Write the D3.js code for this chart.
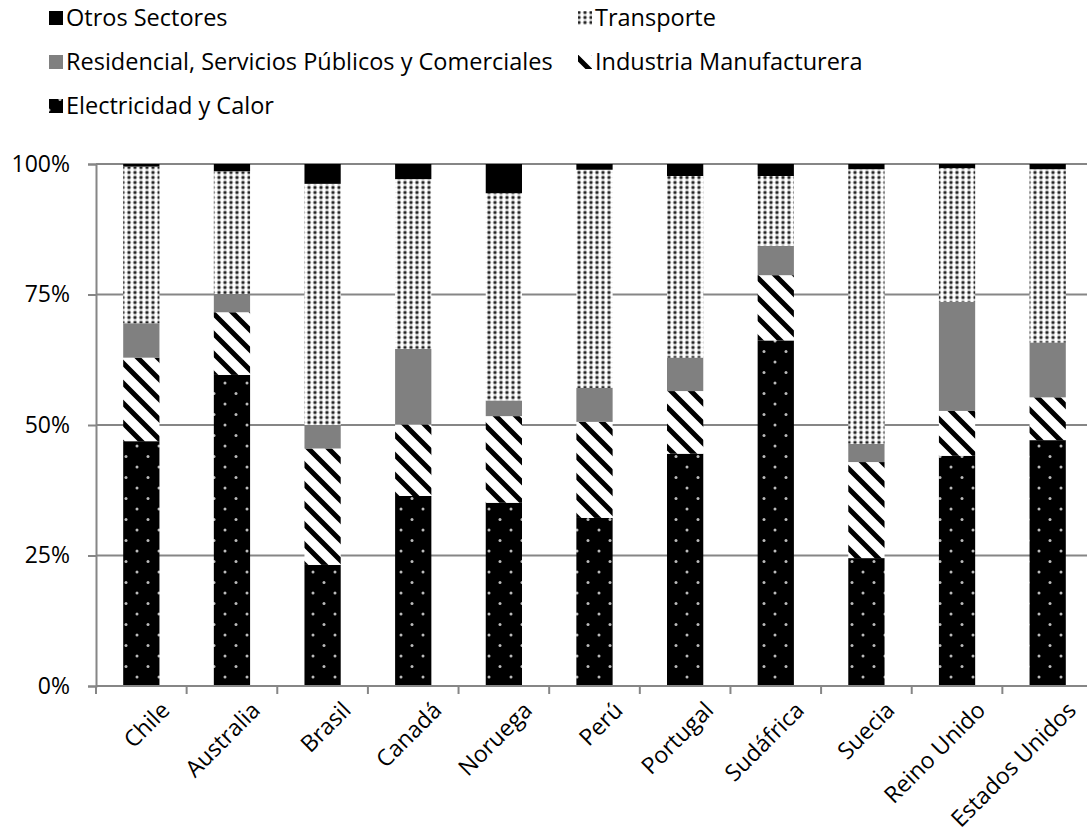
<!DOCTYPE html>
<html>
<head>
<meta charset="utf-8">
<script src="https://cdn.jsdelivr.net/npm/d3@7"></script>
<style>
body { margin: 0; background: #fff; }
text { font-family: "Open Sans", sans-serif; fill: #000; }
</style>
</head>
<body>
<div id="chart"></div>
<script>
var paises = ["Chile","Australia","Brasil","Canadá","Noruega","Perú","Portugal","Sudáfrica","Suecia","Reino Unido","Estados Unidos"]
var sectores = ["Electricidad y Calor","Industria Manufacturera","Residencial, Servicios Públicos y Comerciales","Transporte","Otros Sectores"]

// porcentajes
var electricidad = [46.9, 59.6, 23.2, 36.4, 35.1, 32.2, 44.5, 66.2, 24.5, 44.1, 47.1]
var industria    = [16.0, 12.0, 22.3, 13.7, 16.6, 18.4, 12.0, 12.5, 18.4, 8.6, 8.2]
var residencial  = [6.6, 3.5, 4.5, 14.5, 3.0, 6.5, 6.4, 5.6, 3.5, 20.9, 10.5]
var transporte   = [30.0, 23.5, 46.2, 32.5, 39.7, 41.8, 34.8, 13.4, 52.6, 25.6, 33.2]
var otros        = [0.5, 1.4, 3.8, 2.9, 5.6, 1.1, 2.3, 2.3, 1.0, 0.8, 1.0]
var yTicks = [0, 0.25, 0.5, 0.75, 1]

var series = [electricidad, industria, residencial, transporte, otros]
var fills = ["url(#pElec)","url(#pInd)","#808080","url(#pTrans)","#000"]

var width = 1087, height = 837
var svg = d3.select("#chart").append("svg")
    .attr("width", width)
    .attr("height", height)

var defs = svg.append("defs")

var pe = defs.append("pattern").attr("id","pElec")
    .attr("patternUnits","userSpaceOnUse").attr("width",22).attr("height",21)
pe.append("rect").attr("width",22).attr("height",21).attr("fill","#000")
pe.append("circle").attr("cx",5).attr("cy",5).attr("r",1.5).attr("fill","#bbb")
pe.append("circle").attr("cx",16).attr("cy",15.5).attr("r",1.5).attr("fill","#bbb")

var pi = defs.append("pattern").attr("id","pInd")
    .attr("patternUnits","userSpaceOnUse").attr("width",20).attr("height",20)
pi.append("rect").attr("width",20).attr("height",20).attr("fill","#fff")
pi.append("path").attr("d","M-10,-10L30,30M-10,10L10,30M10,-10L30,10")
    .attr("stroke","#000").attr("stroke-width",5)

var pt = defs.append("pattern").attr("id","pTrans")
    .attr("patternUnits","userSpaceOnUse").attr("width",6).attr("height",5)
pt.append("rect").attr("width",6).attr("height",5).attr("fill","#fff")
pt.append("circle").attr("cx",3).attr("cy",2.5).attr("r",2.2).attr("fill","#aaa")
pt.append("circle").attr("cx",3).attr("cy",2.5).attr("r",1.2).attr("fill","#222")

var x = d3.scaleBand().domain(paises).range([96, 1093])
var y = d3.scaleLinear().domain([0, 1]).range([686, 164])

var rows = paises.map(function(p, i){
    var r = {pais: p}
    sectores.forEach(function(s, k){ r[s] = series[k][i] })
    return r
})
var stacked = d3.stack().keys(sectores).offset(d3.stackOffsetExpand)(rows)

// lineas de cuadricula
svg.append("g").selectAll("line")
    .data(yTicks.slice(1))
    .enter().append("line")
    .attr("x1", 96).attr("x2", width)
    .attr("y1", function(d){ return y(d) }).attr("y2", function(d){ return y(d) })
    .attr("stroke","#868686").attr("stroke-width",2)

var barW = x.bandwidth() * 0.4
svg.append("g").selectAll("g")
    .data(stacked)
    .enter().append("g")
    .attr("fill", function(d, i){ return fills[i] })
    .selectAll("rect")
    .data(function(d){ return d })
    .enter().append("rect")
    .attr("x", function(d){ return x(d.data.pais) + (x.bandwidth() - barW) / 2 })
    .attr("y", function(d){ return y(d[1]) })
    .attr("width", barW)
    .attr("height", function(d){ return y(d[0]) - y(d[1]) })

// eje y
var yAxis = svg.append("g")
    .attr("transform","translate(96,0)")
    .call(d3.axisLeft(y).tickValues(yTicks).tickFormat(d3.format(".0%")).tickSize(8).tickPadding(18))
yAxis.select(".domain").attr("stroke","#868686").attr("stroke-width",2)
yAxis.selectAll(".tick line").attr("stroke","#868686").attr("stroke-width",2)
yAxis.selectAll("text").style("font-size","23px").attr("fill","#000")

// eje x
var xAxis = svg.append("g")
    .attr("transform","translate(0,686)")
xAxis.append("line").attr("x1",96).attr("x2",width).attr("stroke","#868686").attr("stroke-width",2)
xAxis.selectAll(".tk")
    .data(paises)
    .enter().append("line")
    .attr("x1", function(d){ return x(d) }).attr("x2", function(d){ return x(d) })
    .attr("y1", 0).attr("y2", 8)
    .attr("stroke","#868686").attr("stroke-width",2)
xAxis.selectAll("text")
    .data(paises)
    .enter().append("text")
    .attr("transform", function(d){ return "translate(" + (x(d) + x.bandwidth()/2 + 18) + ",14) rotate(-45)" })
    .attr("text-anchor","end")
    .attr("dy","0.72em")
    .style("font-size","23px")
    .text(function(d){ return d })

// leyenda
var legendOrder = [4, 3, 2, 1, 0]
var legend = svg.append("g")
legendOrder.forEach(function(k, i){
    var col = i % 2, row = Math.floor(i / 2)
    var lx = col == 0 ? 49 : 578
    var ly = 18 + row * 44
    legend.append("rect").attr("x", lx).attr("y", ly - 7).attr("width",14).attr("height",14)
        .attr("fill", fills[k])
    legend.append("text").attr("x", lx + 17).attr("y", ly)
        .attr("dy","0.35em")
        .style("font-size","23.5px")
        .text(sectores[k])
})
</script>
</body>
</html>
